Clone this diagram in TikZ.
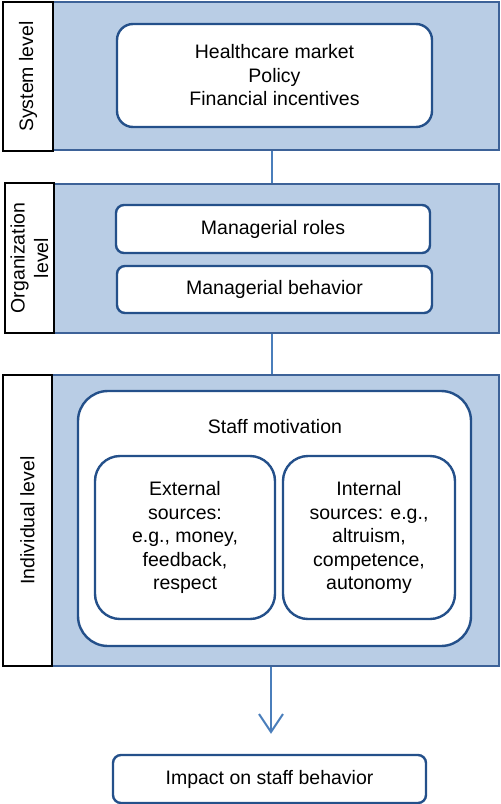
\documentclass[tikz,border=0pt]{standalone}
\usepackage{fontspec}
\setmainfont{Liberation Sans}
\usetikzlibrary{arrows.meta}
\definecolor{panelfill}{HTML}{B9CDE5}
\definecolor{paneldraw}{HTML}{3D6298}
\definecolor{boxdraw}{HTML}{24508A}
\definecolor{linkc}{HTML}{4A7EBB}
\begin{document}
\begin{tikzpicture}[x=1pt,y=-1pt,
  every node/.style={font=\fontsize{19.5}{23.5}\selectfont, inner sep=0pt, align=center},
  panel/.style={draw=paneldraw, fill=panelfill, line width=2pt, rectangle},
  levelbox/.style={draw=black, fill=white, line width=2.5pt, rectangle, rotate=90},
  item/.style={draw=boxdraw, fill=white, line width=2.4pt, rectangle, rounded corners=#1},
  item/.default=8pt,
  link/.style={draw=linkc, line width=2pt}
]
\useasboundingbox (0,0) rectangle (501,804);
% system level
\node[panel, minimum width=446pt, minimum height=148pt] (sysp) at (276,76) {};
\node[levelbox, minimum width=149pt, minimum height=50pt] (syslab) at (28,76.5) {System level};
\node[item=16pt, minimum width=315pt, minimum height=103pt] (sysbox) at (274.5,75.5) {Healthcare market\\Policy\\Financial incentives};
% organization level
\node[panel, minimum width=445pt, minimum height=149pt] (orgp) at (276.5,258.5) {};
\node[levelbox, minimum width=150pt, minimum height=49pt] (orglab) at (29.5,258) {Organization\\level};
\node[item, minimum width=314pt, minimum height=48pt] (roles) at (273,229) {Managerial roles};
\node[item, minimum width=315pt, minimum height=47pt] (behav) at (274.5,289.5) {Managerial behavior};
% individual level
\node[panel, minimum width=447pt, minimum height=291pt] (indp) at (275.5,520.5) {};
\node[levelbox, minimum width=291pt, minimum height=49pt] (indlab) at (27.5,520.5) {Individual level};
\node[item=30pt, minimum width=393pt, minimum height=255pt] (staff) at (274.5,518.5) {};
\node (stafft) at (275,427) {Staff motivation};
\node[item=25pt, minimum width=180pt, minimum height=163pt] (ext) at (185,537.5) {External\\sources:\\e.g., money,\\feedback,\\respect};
\node[item=25pt, minimum width=172pt, minimum height=163pt] (int) at (369,537.5) {Internal\\sources: e.g.,\\altruism,\\competence,\\autonomy};
% impact
\node[item, minimum width=313pt, minimum height=48pt] (impact) at (269.5,779) {Impact on staff behavior};
% connectors
\draw[link] ([xshift=-4pt]sysp.south) -- ([xshift=-4.5pt]orgp.north);
\draw[link] ([xshift=-4.5pt]orgp.south) -- ([xshift=-3.5pt]indp.north);
\draw[link, -{Straight Barb[length=18pt,width=24pt]}, shorten >=20pt] ([xshift=-4.5pt]indp.south) -- (impact.north -| {271,0});
\end{tikzpicture}
\end{document}
